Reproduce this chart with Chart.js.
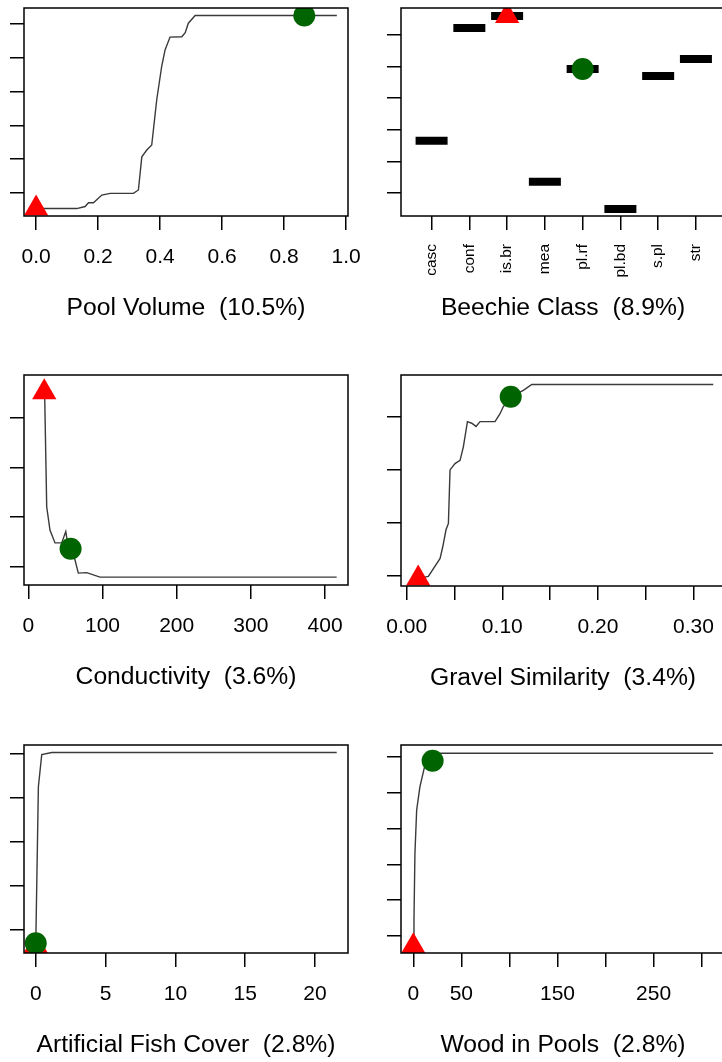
<!DOCTYPE html>
<html>
<head>
<meta charset="utf-8">
<script src="https://cdn.jsdelivr.net/npm/chart.js@4.4.0/dist/chart.umd.min.js"></script>
<style>
  html, body { margin: 0; padding: 0; background: #fff; }
  body { width: 722px; height: 1062px; overflow: hidden; position: relative; }
  canvas { position: absolute; }
</style>
</head>
<body>
<canvas id="pool"></canvas>
<canvas id="beechie"></canvas>
<canvas id="cond"></canvas>
<canvas id="gravel"></canvas>
<canvas id="fish"></canvas>
<canvas id="wood"></canvas>
<script>
// ---- data (partial dependence, y in arbitrary units) ----
const poolX = [0, 0.131, 0.158, 0.169, 0.185, 0.212, 0.239, 0.314, 0.330, 0.341, 0.357, 0.373, 0.389, 0.405, 0.416, 0.432, 0.470, 0.481, 0.491, 0.513, 0.970];
const poolY = [-0.46, -0.46, -0.40, -0.29, -0.29, -0.06, -0.01, -0.01, 0.09, 1.07, 1.27, 1.42, 2.75, 3.74, 4.23, 4.61, 4.62, 4.74, 5.02, 5.25, 5.25];
const poolMin = [0, -0.46];
const poolMax = [0.865, 5.25];
const poolTicks = [0, 0.2, 0.4, 0.6, 0.8, 1.0];
const poolLabels = ['0.0', '0.2', '0.4', '0.6', '0.8', '1.0'];

const beechieClasses = ['casc', 'conf', 'is.br', 'mea', 'pl.rf', 'pl.bd', 's.pl', 'str'];
const beechieY = [1.65, 5.22, 5.60, 0.35, 3.92, -0.51, 3.70, 4.24];
const beechieMin = 'is.br';
const beechieMax = 'pl.rf';

const condX = [22, 24.8, 29.2, 36, 45, 50.5, 53, 57, 62.9, 67.4, 78.7, 96.6, 415.6];
const condY = [3.52, 1.21, 0.74, 0.48, 0.48, 0.71, 0.48, 0.36, 0.14, -0.13, -0.12, -0.21, -0.21];
const condMin = [21.5, 3.52];
const condMax = [57, 0.36];
const condTicks = [0, 100, 200, 300, 400];
const condLabels = ['0', '100', '200', '300', '400'];

const gravelX = [0.012, 0.0226, 0.0349, 0.0377, 0.0411, 0.0436, 0.0453, 0.0505, 0.0558, 0.0593, 0.0635, 0.068, 0.0725, 0.0767, 0.0924, 0.0976, 0.101, 0.1088, 0.122, 0.1308, 0.3207];
const gravelY = [-0.05, -0.01, 0.33, 0.55, 0.87, 0.99, 2.00, 2.12, 2.18, 2.44, 2.91, 2.88, 2.82, 2.91, 2.91, 3.06, 3.19, 3.38, 3.50, 3.61, 3.61];
const gravelMin = [0.012, -0.05];
const gravelMax = [0.1088, 3.38];
const gravelTicks = [0, 0.05, 0.10, 0.15, 0.20, 0.25, 0.30];
const gravelLabels = ['0.00', '', '0.10', '', '0.20', '', '0.30'];

const fishX = [0, 0.19, 0.43, 1.15, 21.55];
const fishY = [-0.36, 3.26, 3.99, 4.04, 4.04];
const fishMin = [0, -0.36];
const fishMax = [0, -0.30];
const fishTicks = [0, 5, 10, 15, 20];
const fishLabels = ['0', '5', '10', '15', '20'];

const woodX = [0, 0.7, 1.7, 3.5, 6.9, 12.1, 20.1, 27.7, 312];
const woodY = [-0.28, 0.45, 2.30, 3.51, 4.16, 4.76, 4.88, 5.09, 5.09];
const woodMin = [0, -0.28];
const woodMax = [20.1, 4.88];
const woodTicks = [0, 50, 100, 150, 200, 250, 300];
const woodLabels = ['0', '50', '', '150', '', '250', ''];

// ---- styling ----
const FONT = "'Liberation Sans', Arial, Helvetica, sans-serif";
const INK = '#000';
const LINE = '#3a3a3a';
const RED = '#ff0000';
const GREEN = '#006400';

Chart.defaults.font.family = FONT;
Chart.defaults.color = INK;

// R-style box round the plot region
const boxPlugin = {
  id: 'box',
  afterDraw(chart) {
    const { ctx, chartArea: a } = chart;
    ctx.save();
    ctx.strokeStyle = INK;
    ctx.lineWidth = 1.5;
    ctx.strokeRect(a.left, a.top, a.right - a.left, a.bottom - a.top);
    ctx.restore();
  },
};

const pts = (xs, ys) => xs.map((x, i) => ({ x, y: ys[i] }));

function curve(xs, ys) {
  return { data: pts(xs, ys), showLine: true, borderColor: LINE, borderWidth: 1.4,
           pointRadius: 0, pointHoverRadius: 0, tension: 0, order: 3 };
}
function tri(p) {
  return { data: [{ x: p[0], y: p[1] }], pointStyle: 'triangle', pointRadius: 14,
           backgroundColor: RED, borderWidth: 0, clip: 0, order: 2 };
}
function dot(p) {
  return { data: [{ x: p[0], y: p[1] }], pointStyle: 'circle', pointRadius: 11,
           backgroundColor: GREEN, borderWidth: 0, clip: 0, order: 1 };
}

function makePanel(cfg) {
  const canvas = document.getElementById(cfg.id);
  canvas.width = cfg.w;
  canvas.height = cfg.h;
  canvas.style.left = cfg.left + 'px';
  canvas.style.top = cfg.top + 'px';

  const gridOpts = { drawOnChartArea: false, drawTicks: true, tickLength: 14, color: INK, lineWidth: 1.5 };

  return new Chart(canvas, {
    type: 'scatter',
    data: { datasets: cfg.datasets },
    options: {
      responsive: false,
      animation: false,
      devicePixelRatio: 1,
      events: [],
      layout: { autoPadding: false, padding: { top: cfg.padTop, right: cfg.padRight, left: 0, bottom: 0 } },
      plugins: { legend: { display: false }, tooltip: { enabled: false } },
      scales: {
        x: {
          type: 'linear',
          min: cfg.xMin,
          max: cfg.xMax,
          afterBuildTicks: s => { s.ticks = cfg.xTicks.map(v => ({ value: v })); },
          afterFit: s => { s.height = cfg.xAxisH; },
          grid: gridOpts,
          border: { display: false },
          ticks: {
            autoSkip: false,
            padding: cfg.tickPad || 15,
            minRotation: cfg.rot || 0,
            maxRotation: cfg.rot || 0,
            color: INK,
            font: { size: cfg.tickSize || 21 },
            callback: (v, i) => cfg.xLabels[i],
          },
          title: {
            display: true,
            text: cfg.title,
            color: INK,
            font: { size: 24.7 },
            padding: { top: 0, bottom: 17 },
          },
        },
        y: {
          type: 'linear',
          min: cfg.yMin,
          max: cfg.yMax,
          afterBuildTicks: s => { s.ticks = cfg.yTicks.map(v => ({ value: v })); },
          afterFit: s => { s.width = cfg.yAxisW; },
          grid: gridOpts,
          border: { display: false },
          ticks: { display: false },
        },
      },
    },
    plugins: [boxPlugin],
  });
}

const LEFT = { left: 0, w: 390, yAxisW: 24, padRight: 42, xAxisH: 124 };
const RIGHT = { left: 360, w: 400, yAxisW: 41, padRight: 35, xAxisH: 124 };

makePanel(Object.assign({}, LEFT, {
  id: 'pool', top: 0, h: 340, padTop: 8,
  xMin: -0.039, xMax: 1.006, xTicks: poolTicks, xLabels: poolLabels,
  yMin: -0.68, yMax: 5.47, yTicks: [0, 1, 2, 3, 4, 5],
  title: 'Pool Volume  (10.5%)',
  datasets: [curve(poolX, poolY), tri(poolMin), dot(poolMax)],
}));

const bIdx = beechieClasses.map((c, i) => i + 1);
makePanel(Object.assign({}, RIGHT, {
  id: 'beechie', top: 0, h: 340, padTop: 8,
  xMin: 0.19, xMax: 8.77, xTicks: bIdx, xLabels: beechieClasses,
  rot: 90, tickSize: 15.5, tickPad: 14,
  yMin: -0.73, yMax: 5.85, yTicks: [0, 1, 2, 3, 4, 5],
  title: 'Beechie Class  (8.9%)',
  datasets: [
    { data: pts(bIdx, beechieY), pointStyle: 'line', pointRadius: 16, borderWidth: 8,
      borderColor: INK, backgroundColor: INK, pointHoverRadius: 16, order: 3 },
    tri([beechieClasses.indexOf(beechieMin) + 1, beechieY[beechieClasses.indexOf(beechieMin)]]),
    dot([beechieClasses.indexOf(beechieMax) + 1, beechieY[beechieClasses.indexOf(beechieMax)]]),
  ],
}));

makePanel(Object.assign({}, LEFT, {
  id: 'cond', top: 360, h: 349, padTop: 15,
  xMin: -5.8, xMax: 430.9, xTicks: condTicks, xLabels: condLabels,
  yMin: -0.37, yMax: 3.87, yTicks: [0, 1, 2, 3],
  title: 'Conductivity  (3.6%)',
  datasets: [curve(condX, condY), tri(condMin), dot(condMax)],
}));

makePanel(Object.assign({}, RIGHT, {
  id: 'gravel', top: 360, h: 350, padTop: 15,
  xMin: -0.006, xMax: 0.333, xTicks: gravelTicks, xLabels: gravelLabels,
  yMin: -0.19, yMax: 3.79, yTicks: [0, 1, 2, 3],
  title: 'Gravel Similarity  (3.4%)',
  datasets: [curve(gravelX, gravelY), tri(gravelMin), dot(gravelMax)],
}));

makePanel(Object.assign({}, LEFT, {
  id: 'fish', top: 720, h: 357, padTop: 25,
  xMin: -0.84, xMax: 22.36, xTicks: fishTicks, xLabels: fishLabels,
  yMin: -0.52, yMax: 4.21, yTicks: [0, 1, 2, 3, 4],
  title: 'Artificial Fish Cover  (2.8%)',
  datasets: [curve(fishX, fishY), tri(fishMin), dot(fishMax)],
}));

makePanel(Object.assign({}, RIGHT, {
  id: 'wood', top: 720, h: 357, padTop: 25,
  xMin: -12.8, xMax: 324.3, xTicks: woodTicks, xLabels: woodLabels,
  yMin: -0.47, yMax: 5.32, yTicks: [0, 1, 2, 3, 4, 5],
  title: 'Wood in Pools  (2.8%)',
  datasets: [curve(woodX, woodY), tri(woodMin), dot(woodMax)],
}));
</script>
</body>
</html>
